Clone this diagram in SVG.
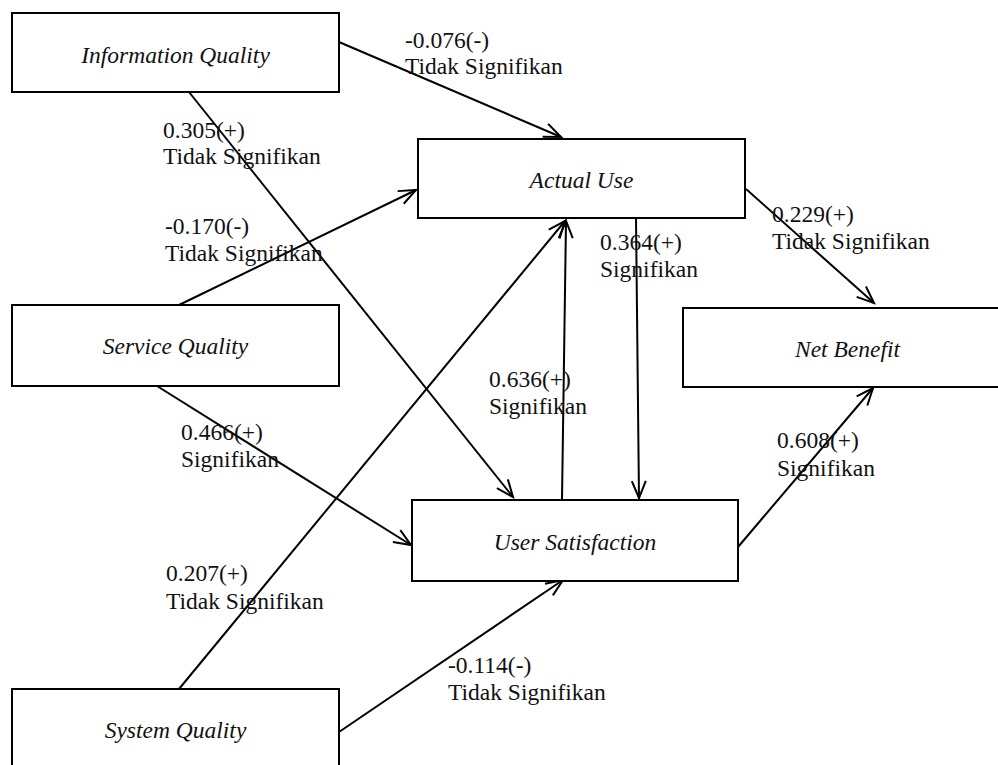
<svg xmlns="http://www.w3.org/2000/svg" width="998" height="765" viewBox="0 0 998 765">
  <style>
    .box { fill: #fff; stroke: #000; stroke-width: 2; }
    .name { font-family: "Liberation Serif", "Times New Roman", serif; font-style: italic; font-size: 23.5px; fill: #111; text-anchor: middle; }
    .lbl { font-family: "Liberation Serif", "Times New Roman", serif; font-size: 23.5px; fill: #111; }
    .edge { stroke: #000; stroke-width: 2; fill: none; marker-end: url(#arrow); }
  </style>
  <defs>
    <marker id="arrow" markerUnits="userSpaceOnUse" markerWidth="40" markerHeight="40" refX="0" refY="0" viewBox="-20 -20 40 40" orient="auto" overflow="visible">
      <path d="M-17,-7 L0,0 L-17,7" fill="none" stroke="#000" stroke-width="2" stroke-linejoin="miter"/>
    </marker>
  </defs>
  <rect width="998" height="765" fill="#fff"/>

  <g id="connectors">
    <line class="edge" x1="339" y1="42" x2="561" y2="137"/>
    <line class="edge" x1="189" y1="92" x2="513" y2="497"/>
    <line class="edge" x1="179" y1="305" x2="416" y2="190"/>
    <line class="edge" x1="157" y1="386" x2="411" y2="545"/>
    <line class="edge" x1="179" y1="689" x2="565" y2="221"/>
    <line class="edge" x1="339" y1="732" x2="563" y2="580"/>
    <line class="edge" x1="562" y1="500" x2="566" y2="221"/>
    <line class="edge" x1="636" y1="218" x2="639" y2="498"/>
    <line class="edge" x1="746" y1="189" x2="874" y2="303"/>
    <line class="edge" x1="738" y1="547" x2="873" y2="388"/>
  </g>

  <g id="information-quality">
    <rect class="box" x="12" y="13" width="327" height="79"/>
    <text class="name" x="175.5" y="63">Information Quality</text>
  </g>
  <g id="actual-use">
    <rect class="box" x="418" y="139" width="327" height="79"/>
    <text class="name" x="581.5" y="188">Actual Use</text>
  </g>
  <g id="service-quality">
    <rect class="box" x="12" y="305" width="327" height="81"/>
    <text class="name" x="175.5" y="354">Service Quality</text>
  </g>
  <g id="net-benefit">
    <rect class="box" x="683" y="308" width="330" height="79"/>
    <text class="name" x="847.5" y="357">Net Benefit</text>
  </g>
  <g id="user-satisfaction">
    <rect class="box" x="412" y="500" width="326" height="81"/>
    <text class="name" x="575" y="550">User Satisfaction</text>
  </g>
  <g id="system-quality">
    <rect class="box" x="12" y="689" width="327" height="80"/>
    <text class="name" x="175.5" y="738">System Quality</text>
  </g>

  <g id="path-labels">
    <text class="lbl" x="405" y="48">-0.076(-)</text>
    <text class="lbl" x="405" y="74">Tidak Signifikan</text>
    <text class="lbl" x="163" y="138">0.305(+)</text>
    <text class="lbl" x="163" y="164">Tidak Signifikan</text>
    <text class="lbl" x="165" y="234">-0.170(-)</text>
    <text class="lbl" x="165" y="261">Tidak Signifikan</text>
    <text class="lbl" x="772" y="222">0.229(+)</text>
    <text class="lbl" x="772" y="249">Tidak Signifikan</text>
    <text class="lbl" x="600" y="250">0.364(+)</text>
    <text class="lbl" x="600" y="277">Signifikan</text>
    <text class="lbl" x="489" y="387">0.636(+)</text>
    <text class="lbl" x="489" y="414">Signifikan</text>
    <text class="lbl" x="181" y="440">0.466(+)</text>
    <text class="lbl" x="181" y="467">Signifikan</text>
    <text class="lbl" x="777" y="448">0.608(+)</text>
    <text class="lbl" x="777" y="476">Signifikan</text>
    <text class="lbl" x="166" y="581">0.207(+)</text>
    <text class="lbl" x="166" y="609">Tidak Signifikan</text>
    <text class="lbl" x="448" y="673">-0.114(-)</text>
    <text class="lbl" x="448" y="700">Tidak Signifikan</text>
  </g>
</svg>
